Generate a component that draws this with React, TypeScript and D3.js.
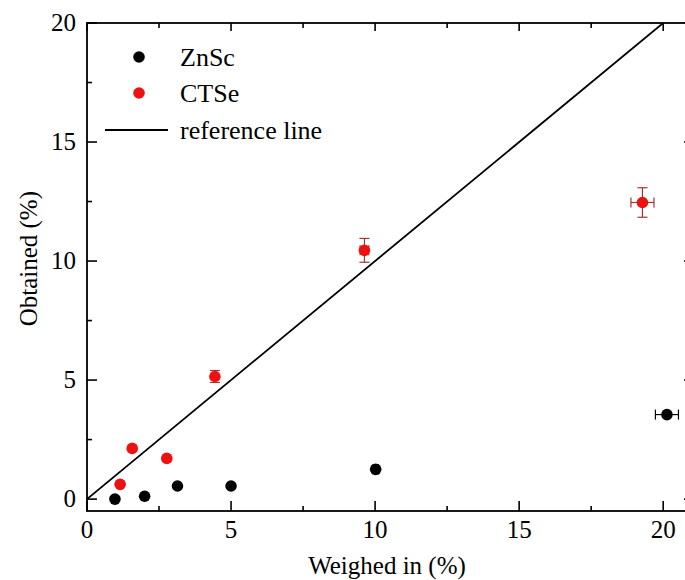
import React from "react";
import * as d3 from "d3";

// ZnSe points (weighed in %, obtained %), with x / y errors
const znX = [0.97, 2.0, 3.14, 5.0, 10.02, 20.13];
const znY = [0.0, 0.12, 0.55, 0.55, 1.25, 3.55];
const znXErr = [0, 0, 0, 0, 0.1, 0.4];
const znYErr = [0, 0, 0, 0, 0, 0];

// CTSe points
const ctX = [1.15, 1.57, 2.77, 4.44, 9.63, 19.28];
const ctY = [0.62, 2.13, 1.71, 5.15, 10.45, 12.46];
const ctXErr = [0, 0, 0, 0, 0.15, 0.4];
const ctYErr = [0, 0, 0, 0.25, 0.5, 0.62];

const xTicks = [0, 5, 10, 15, 20];
const yTicks = [0, 5, 10, 15, 20];
const minorTicks = [2.5, 7.5, 12.5, 17.5];

const legendItems = ["ZnSc", "CTSe", "reference line"];

const W = 685;
const H = 580;
const font = "'Liberation Serif', 'Times New Roman', serif";

function Series({ xs, ys, xe, ye, fill, errColor, x, y }: any) {
  return (
    <g>
      {xs.map((v: number, i: number) => {
        const cx = x(v);
        const cy = y(ys[i]);
        return (
          <g key={i}>
            {xe[i] > 0 && (
              <g stroke={errColor} strokeWidth={1.2}>
                <line x1={x(v - xe[i])} x2={x(v + xe[i])} y1={cy} y2={cy} />
                <line x1={x(v - xe[i])} x2={x(v - xe[i])} y1={cy - 5} y2={cy + 5} />
                <line x1={x(v + xe[i])} x2={x(v + xe[i])} y1={cy - 5} y2={cy + 5} />
              </g>
            )}
            {ye[i] > 0 && (
              <g stroke={errColor} strokeWidth={1.2}>
                <line x1={cx} x2={cx} y1={y(ys[i] - ye[i])} y2={y(ys[i] + ye[i])} />
                <line x1={cx - 5} x2={cx + 5} y1={y(ys[i] - ye[i])} y2={y(ys[i] - ye[i])} />
                <line x1={cx - 5} x2={cx + 5} y1={y(ys[i] + ye[i])} y2={y(ys[i] + ye[i])} />
              </g>
            )}
            <circle cx={cx} cy={cy} r={5.8} fill={fill} />
          </g>
        );
      })}
    </g>
  );
}

export default function App() {
  const left = 87;
  const right = 692;
  const top = 23;
  const bottom = 511;

  const x = d3.scaleLinear().domain([0, 21]).range([left, right]);
  const y = d3.scaleLinear().domain([-0.5, 20]).range([bottom, top]);

  const refLine = d3
    .line<number>()
    .x((d) => x(d))
    .y((d) => y(d));

  const ts = { fontFamily: font, fill: "#000" };

  return (
    <svg
      width={W}
      height={H}
      style={{ position: "absolute", left: 0, top: 0, background: "#fff" }}
    >
      <defs>
        <clipPath id="plot">
          <rect x={left} y={top} width={right - left} height={bottom - top} />
        </clipPath>
      </defs>

      {/* reference line y = x */}
      <path
        d={refLine([0, 21]) || ""}
        stroke="#000"
        strokeWidth={1.8}
        fill="none"
        clipPath="url(#plot)"
      />

      <Series xs={znX} ys={znY} xe={znXErr} ye={znYErr} fill="#000" errColor="#000" x={x} y={y} />
      <Series xs={ctX} ys={ctY} xe={ctXErr} ye={ctYErr} fill="#ee1111" errColor="#a83232" x={x} y={y} />

      {/* frame */}
      <rect
        x={left}
        y={top}
        width={right - left}
        height={bottom - top}
        fill="none"
        stroke="#000"
        strokeWidth={1.8}
      />

      {/* x ticks, bottom and top, inward */}
      {xTicks.map((t) => (
        <g key={"xt" + t}>
          <line x1={x(t)} x2={x(t)} y1={bottom} y2={bottom - 10} stroke="#000" strokeWidth={1.6} />
          <line x1={x(t)} x2={x(t)} y1={top} y2={top + 8} stroke="#000" strokeWidth={1.6} />
          <text x={x(t)} y={bottom + 27} fontSize={25} textAnchor="middle" style={ts}>
            {t}
          </text>
        </g>
      ))}
      {minorTicks.map((t) => (
        <g key={"xm" + t}>
          <line x1={x(t)} x2={x(t)} y1={bottom} y2={bottom - 5} stroke="#000" strokeWidth={1.6} />
          <line x1={x(t)} x2={x(t)} y1={top} y2={top + 5} stroke="#000" strokeWidth={1.6} />
        </g>
      ))}

      {/* y ticks, left and right, inward */}
      {yTicks.map((t) => (
        <g key={"yt" + t}>
          <line x1={left} x2={left + 10} y1={y(t)} y2={y(t)} stroke="#000" strokeWidth={1.6} />
          <line x1={right} x2={right - 8} y1={y(t)} y2={y(t)} stroke="#000" strokeWidth={1.6} />
          <text x={left - 11} y={y(t) + 8} fontSize={25} textAnchor="end" style={ts}>
            {t}
          </text>
        </g>
      ))}
      {minorTicks.map((t) => (
        <g key={"ym" + t}>
          <line x1={left} x2={left + 5} y1={y(t)} y2={y(t)} stroke="#000" strokeWidth={1.6} />
          <line x1={right} x2={right - 5} y1={y(t)} y2={y(t)} stroke="#000" strokeWidth={1.6} />
        </g>
      ))}

      {/* axis titles */}
      <text x={387} y={574} fontSize={25} textAnchor="middle" style={ts}>
        Weighed in (%)
      </text>
      <text
        transform={`translate(37, ${y(10.1)}) rotate(-90)`}
        fontSize={25}
        textAnchor="middle"
        style={ts}
      >
        Obtained (%)
      </text>

      {/* legend */}
      <circle cx={139} cy={57} r={5.8} fill="#000" />
      <text x={180} y={66} fontSize={26} style={ts}>
        {legendItems[0]}
      </text>
      <circle cx={139} cy={93} r={5.8} fill="#ee1111" />
      <text x={180} y={102} fontSize={26} style={ts}>
        {legendItems[1]}
      </text>
      <line x1={105} x2={168} y1={130} y2={130} stroke="#000" strokeWidth={1.8} />
      <text x={180} y={139} fontSize={26} style={ts}>
        {legendItems[2]}
      </text>
    </svg>
  );
}
